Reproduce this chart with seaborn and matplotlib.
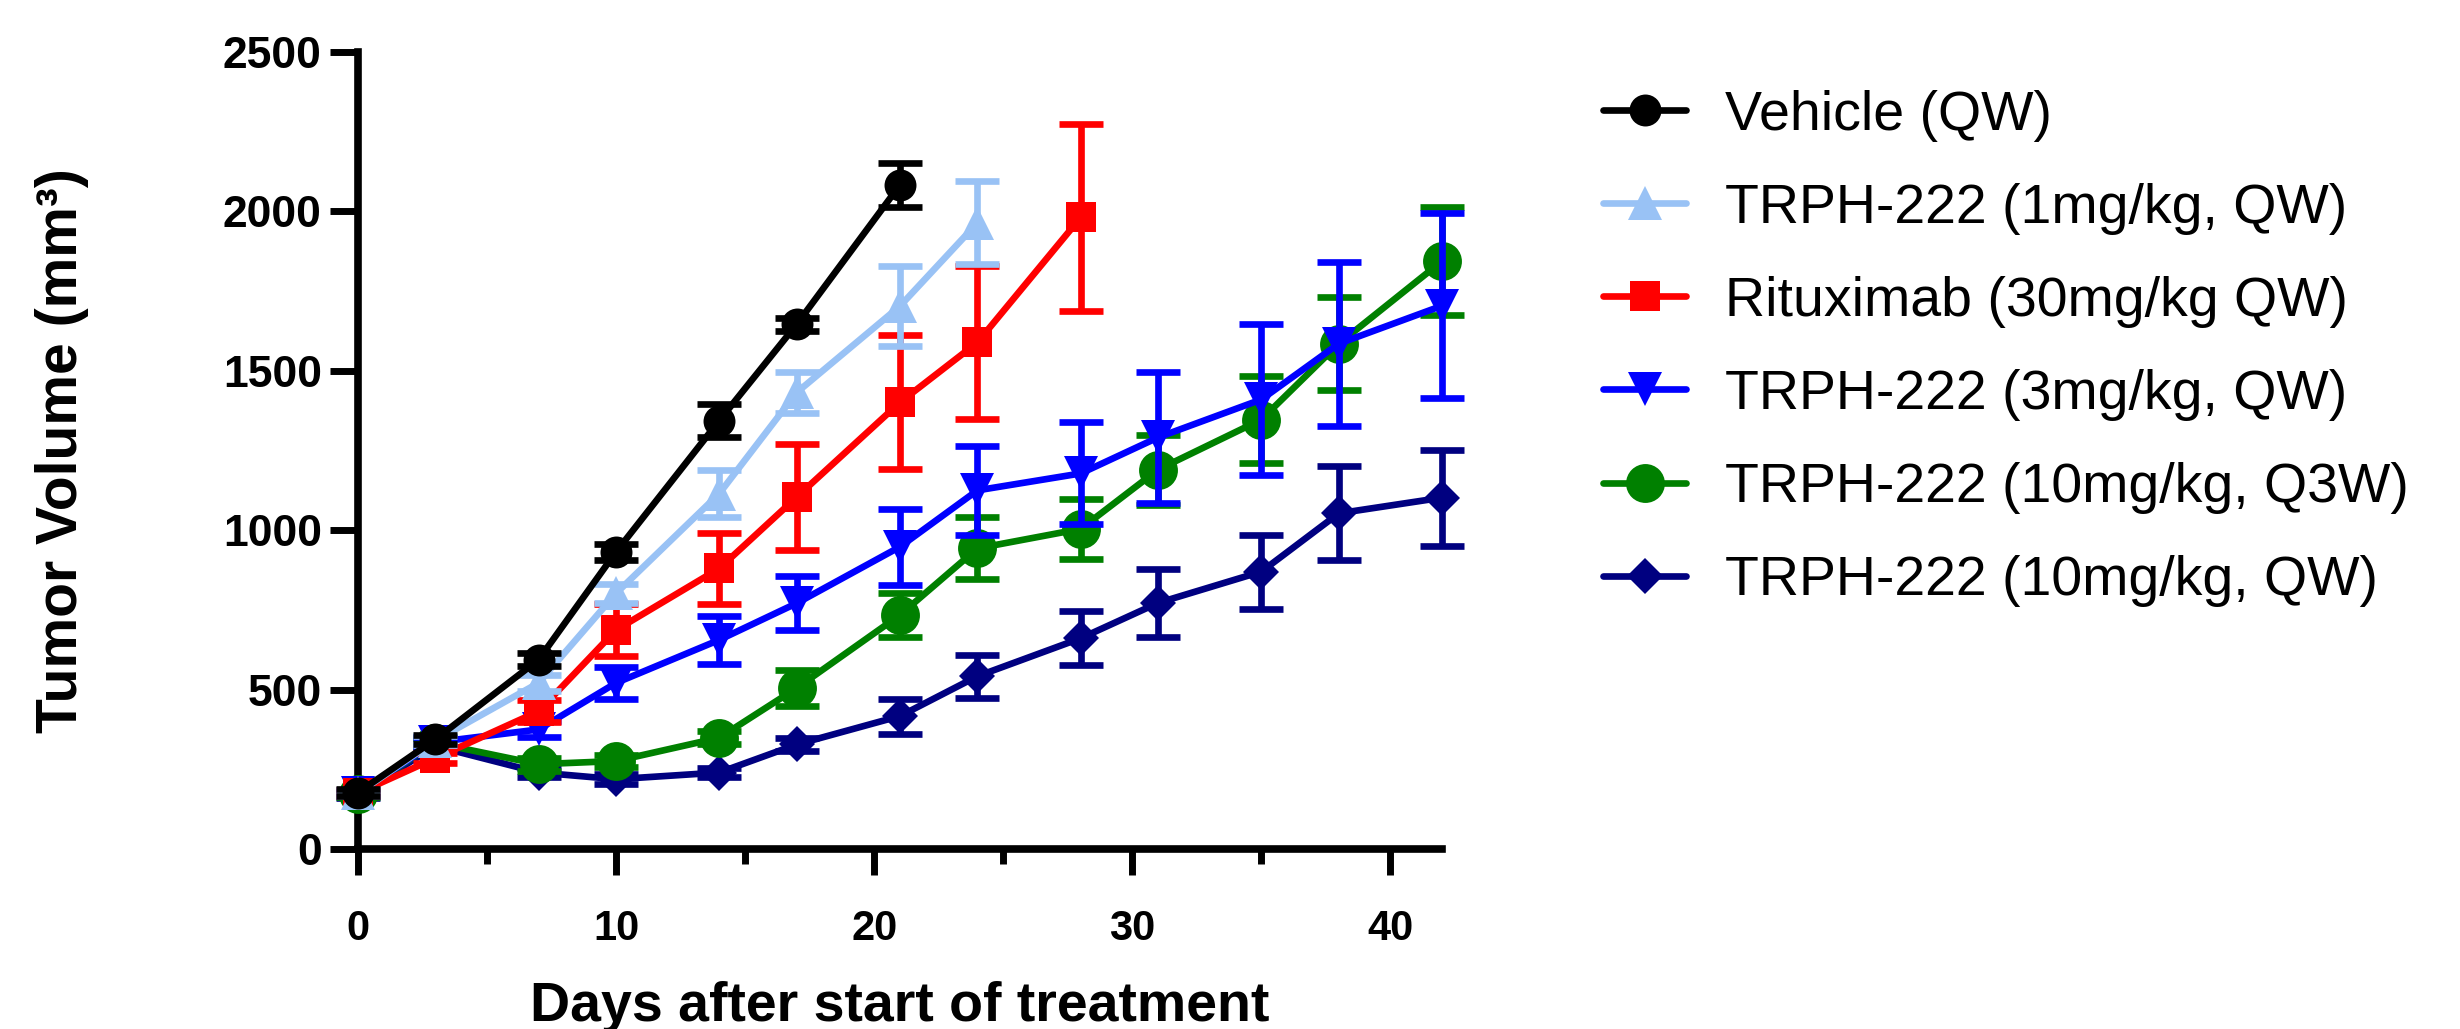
import numpy as np
import pandas as pd
import matplotlib
matplotlib.use("Agg")
import matplotlib.pyplot as plt
import seaborn as sns
from matplotlib.ticker import MultipleLocator

# Days of measurement
days = [0, 3, 7, 10, 14, 17, 21, 24, 28, 31, 35, 38, 42]

# Mean tumor volume (mm3) per group
vehicle = [177, 344, 594, 932, 1344, 1646, 2083]
vehicle_err = [10, 15, 20, 25, 52, 20, 70]

trph_1 = [175, 340, 521, 802, 1115, 1432, 1703, 1964]
trph_1_err = [10, 15, 25, 30, 75, 65, 125, 130]

ritux = [175, 285, 432, 687, 880, 1104, 1401, 1589, 1981]
ritux_err = [10, 15, 35, 80, 112, 165, 210, 240, 293]

trph_3 = [175, 335, 375, 521, 656, 771, 948, 1125, 1178, 1291, 1410, 1585, 1704]
trph_3_err = [10, 15, 25, 50, 75, 85, 120, 140, 160, 205, 236, 257, 290]

trph_10_q3w = [172, 333, 266, 276, 349, 505, 734, 943, 1004, 1190, 1347, 1585, 1844]
trph_10_q3w_err = [10, 15, 20, 20, 20, 55, 68, 97, 93, 110, 137, 145, 170]

trph_10_qw = [170, 323, 240, 219, 240, 328, 417, 542, 661, 772, 870, 1053, 1102]
trph_10_qw_err = [10, 15, 15, 15, 15, 20, 55, 68, 85, 107, 116, 147, 150]

labels = ["Vehicle (QW)", "TRPH-222 (1mg/kg, QW)", "Rituximab (30mg/kg QW)",
          "TRPH-222 (3mg/kg, QW)", "TRPH-222 (10mg/kg, Q3W)", "TRPH-222 (10mg/kg, QW)"]
colors = ["#000000", "#99c2f5", "#ff0000", "#0000ff", "#008000", "#000080"]
markers = ["o", "^", "s", "v", "o", "D"]
msizes = [23, 24, 22, 24, 28, 18]

series = [(vehicle, vehicle_err), (trph_1, trph_1_err), (ritux, ritux_err),
          (trph_3, trph_3_err), (trph_10_q3w, trph_10_q3w_err), (trph_10_qw, trph_10_qw_err)]

sns.set_theme(style="ticks")
plt.rcParams['font.family'] = ['Liberation Sans', 'DejaVu Sans']
plt.rcParams.update({"text.color": "black", "axes.labelcolor": "black",
                     "xtick.color": "black", "ytick.color": "black",
                     "axes.edgecolor": "black"})

fig = plt.figure(figsize=(24.6, 10.29), dpi=100)
ax = fig.add_axes([0.1455, 0.1749, 0.4407, 0.7746])

lw = 4.8
for i, ((vals, errs), lab, col, mk, ms) in enumerate(zip(series, labels, colors, markers, msizes)):
    x = days[:len(vals)]
    z = 10 - i
    ax.errorbar(x, vals, yerr=errs, fmt="none", ecolor=col, elinewidth=lw,
                capsize=16, capthick=lw, zorder=z, clip_on=False)
    sns.lineplot(x=x, y=vals, ax=ax, color=col, linewidth=lw, marker=mk,
                 markersize=ms, markeredgewidth=0, label=lab, zorder=z,
                 clip_on=False)

ax.set_xlim(0, 42)
ax.set_ylim(0, 2500)
ax.xaxis.set_major_locator(MultipleLocator(10))
ax.xaxis.set_minor_locator(MultipleLocator(5))
ax.yaxis.set_major_locator(MultipleLocator(500))

for s in ["top", "right"]:
    ax.spines[s].set_visible(False)
for s in ["left", "bottom"]:
    ax.spines[s].set_linewidth(5.5)

ax.tick_params(axis="y", which="major", length=20, width=5, pad=6,
               labelsize=32)
ax.tick_params(axis="x", which="major", length=19, width=5, pad=24,
               labelsize=30)
ax.tick_params(axis="x", which="minor", length=11, width=5)
for t in ax.get_xticklabels() + ax.get_yticklabels():
    t.set_fontweight("bold")

ax.set_xlabel("Days after start of treatment", fontsize=40, fontweight="bold")
ax.set_ylabel("Tumor Volume (mm³)", fontsize=41, fontweight="bold")
ax.xaxis.set_label_coords(0.5, -0.165)
ax.xaxis.label.set_va("top")
ax.yaxis.set_label_coords(-0.248, 0.5)

ax.legend(loc="upper left", bbox_to_anchor=(0.6516, 0.913),
          bbox_transform=fig.transFigure, frameon=False, fontsize=40,
          handlelength=1.5, handletextpad=0.7, labelspacing=0.74,
          borderpad=0, borderaxespad=0)

fig.savefig("out.png", dpi=100)
